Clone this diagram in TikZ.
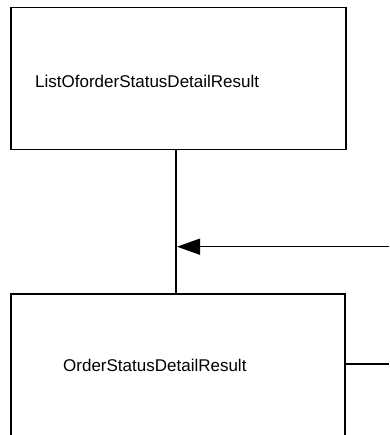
\documentclass[tikz,border=0pt]{standalone}
\usepackage{fontspec}
\setmainfont{Liberation Sans}
\usetikzlibrary{arrows.meta}
\begin{document}
\begin{tikzpicture}[x=1pt,y=-1pt,
  cls/.style={draw=black,line width=1.5pt,fill=white,inner sep=0pt},
  lbl/.style={font=\fontsize{17}{19}\selectfont,anchor=west,inner sep=0pt},
  conn/.style={draw=black,line width=1.5pt}]
\useasboundingbox (0,0) rectangle (389,435);
\clip (0,0) rectangle (389,435);
\node[cls,minimum width=335pt,minimum height=142pt,anchor=north west] (top) at (10,7) {};
\node[cls,minimum width=334pt,minimum height=200pt,anchor=north west] (bot) at (10,293) {};
\node[lbl] (tl) at (35,81) {ListOforderStatusDetailResult};
\node[lbl] (bl) at (63,365) {OrderStatusDetailResult};
\coordinate (j) at (176,246.7);
\coordinate (r1) at (389,246.7);
\coordinate (r2) at (389,364);
\draw[conn] (top.south -| j) -- (bot.north -| j);
\draw[conn,-{Triangle[length=23pt,width=16pt]}] (r1) -- ([xshift=1pt]j);
\draw[conn] (bot.east |- r2) -- (r2);
\end{tikzpicture}
\end{document}
